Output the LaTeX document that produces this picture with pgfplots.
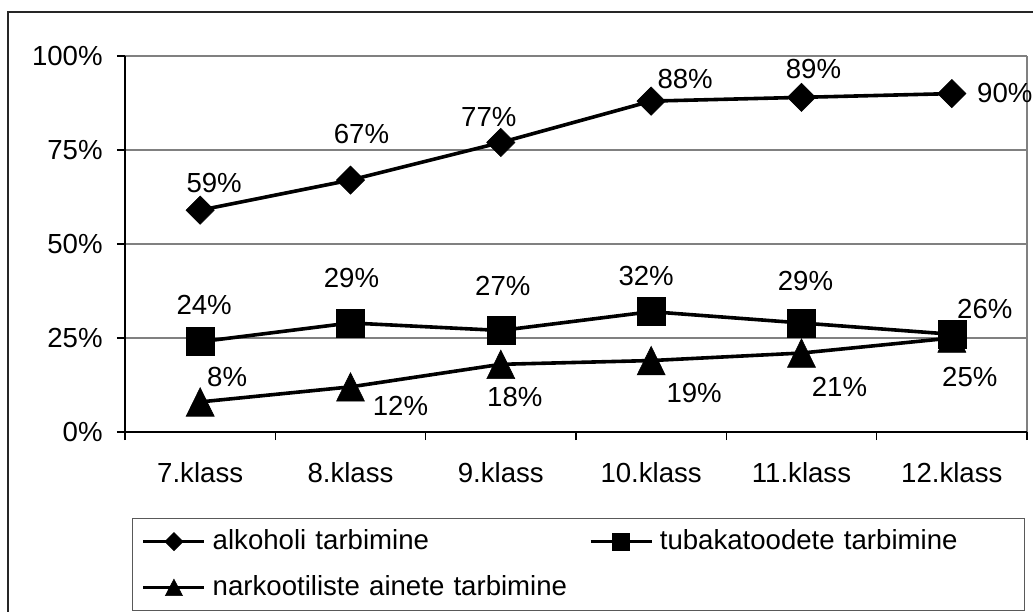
\documentclass[border=0pt]{standalone}
\usepackage{fontspec}
\setmainfont{Liberation Sans}
\usepackage{pgfplots}
\pgfplotsset{compat=1.18}
\begin{document}
\fontsize{13.8bp}{16bp}\selectfont
\begin{tikzpicture}[font=\fontsize{13.8bp}{16bp}\selectfont,
  lab/.style={inner sep=0pt, anchor=center}]
\useasboundingbox (0,0) rectangle (516.5bp,306bp);
\draw[line width=0.7bp, black!85] (4bp,-10bp) rectangle (530bp,300bp);
\begin{axis}[
  at={(62.5bp,90bp)}, anchor=south west,
  scale only axis, width=451bp, height=188bp,
  xmin=-0.5, xmax=5.5, ymin=0, ymax=100,
  clip=false,
  axis line style={draw=none},
  /pgf/number format/assume math mode=true,
  xtick={0,1,2,3,4,5},
  xticklabels={7.klass,8.klass,9.klass,10.klass,11.klass,12.klass},
  minor xtick={-0.5,0.5,1.5,2.5,3.5,4.5,5.5},
  ytick={0,25,50,75,100},
  yticklabels={0\%,25\%,50\%,75\%,100\%},
  xtick pos=bottom, ytick pos=left,
  tick align=outside,
  major tick length=4bp, minor tick length=4bp,
  tick style={black, line width=0.6bp},
  major x tick style={draw=none},
  ymajorgrids, grid style={gray, line width=0.6bp},
  xticklabel style={inner sep=0pt, anchor=north, yshift=-11bp},
  yticklabel style={inner sep=0pt, anchor=east, xshift=-7bp},
  legend columns=2,
  legend cell align=left,
  legend style={at={(0.0078,-0.2287)}, anchor=north west,
    draw=gray!70!black, line width=0.6bp,
    inner xsep=4.5bp, inner ysep=5bp,
    row sep=10bp,
    nodes={inner sep=0pt, text height=10.5bp, text depth=2.5bp, text width=178bp},
    /tikz/every odd column/.append style={column sep=3.25bp},
    /tikz/every even column/.append style={column sep=10bp}},
  legend image code/.code={\draw[mark repeat=2,mark phase=2,#1] plot coordinates {(0bp,0bp) (15.25bp,0bp) (30.5bp,0bp)};},
]
\draw[black, line width=0.6bp] (rel axis cs:0,0) -- (rel axis cs:0,1);
\draw[gray, line width=0.6bp] (rel axis cs:1,0) -- (rel axis cs:1,1);
\draw[black, line width=0.6bp] (rel axis cs:0,0) -- (rel axis cs:1,0);

\addplot[black, line width=1.8bp, mark=square*, mark size=5bp,
  mark options={solid, rotate=45, line width=0.3bp, fill=black}, forget plot]
  coordinates {(0,59)(1,67)(2,77)(3,88)(4,89)(5,90)};
\addplot[black, line width=1.8bp, mark=square*, mark size=7bp,
  mark options={solid, line width=0.3bp, fill=black}, forget plot]
  coordinates {(0,24)(1,29)(2,27)(3,32)(4,29)(5,26)};
\addplot[black, line width=1.8bp, mark=triangle*, mark size=9.5bp,
  mark options={solid, line width=0.3bp, fill=black, xscale=0.85, yshift=-2.4bp}, forget plot]
  coordinates {(0,8)(1,12)(2,18)(3,19)(4,21)(5,25)};

\addlegendimage{black, line width=1.8bp, mark=square*, mark size=3.2bp, mark options={solid, rotate=45, line width=0.3bp, fill=black}}
\addlegendentry{alkoholi tarbimine}
\addlegendimage{black, line width=1.8bp, mark=square*, mark size=4.2bp, mark options={solid, line width=0.3bp, fill=black}}
\addlegendentry{tubakatoodete tarbimine}
\addlegendimage{black, line width=1.8bp, mark=triangle*, mark size=5.5bp, mark options={solid, line width=0.3bp, fill=black, xscale=0.9, yshift=-1.3bp}}
\addlegendentry{narkootiliste ainete tarbimine}

% data labels
\node[lab, xshift=7bp,    yshift=13.5bp] at (axis cs:0,59) {59\%};
\node[lab, xshift=5.5bp,  yshift=23bp]   at (axis cs:1,67) {67\%};
\node[lab, xshift=-6bp,   yshift=12.5bp] at (axis cs:2,77) {77\%};
\node[lab, xshift=17bp,   yshift=11bp]   at (axis cs:3,88) {88\%};
\node[lab, xshift=6bp,    yshift=14bp]   at (axis cs:4,89) {89\%};
\node[lab, xshift=26.5bp, yshift=0.5bp]  at (axis cs:5,90) {90\%};

\node[lab, xshift=2bp,    yshift=18.5bp] at (axis cs:0,24) {24\%};
\node[lab, xshift=0.5bp,  yshift=22.5bp] at (axis cs:1,29) {29\%};
\node[lab, xshift=1bp,    yshift=22.5bp] at (axis cs:2,27) {27\%};
\node[lab, xshift=-2.5bp, yshift=18bp]   at (axis cs:3,32) {32\%};
\node[lab, xshift=2bp,    yshift=21bp]   at (axis cs:4,29) {29\%};
\node[lab, xshift=16.5bp, yshift=12.5bp] at (axis cs:5,26) {26\%};

\node[lab, xshift=13.5bp, yshift=12.5bp] at (axis cs:0,8)  {8\%};
\node[lab, xshift=25bp,   yshift=-9.5bp] at (axis cs:1,12) {12\%};
\node[lab, xshift=7bp,    yshift=-16.5bp] at (axis cs:2,18) {18\%};
\node[lab, xshift=21.5bp, yshift=-16bp]  at (axis cs:3,19) {19\%};
\node[lab, xshift=19bp,   yshift=-17bp]  at (axis cs:4,21) {21\%};
\node[lab, xshift=9bp,    yshift=-19.5bp] at (axis cs:5,25) {25\%};
\end{axis}
\end{tikzpicture}
\end{document}
